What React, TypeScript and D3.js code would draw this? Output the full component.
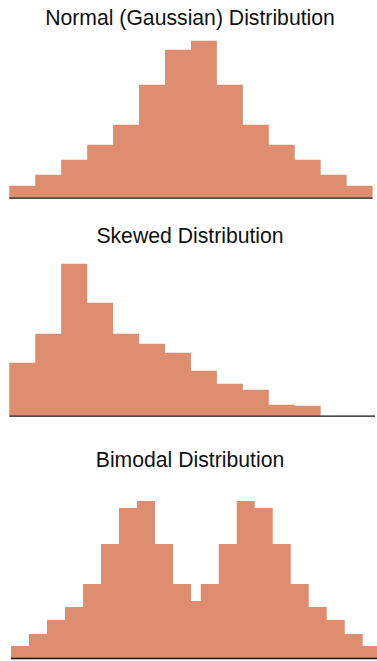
import React from "react";
import * as d3 from "d3";

const W = 377;
const H = 661;

const titles = ["Normal (Gaussian) Distribution", "Skewed Distribution", "Bimodal Distribution"];

const normalValues = [12, 23, 38, 53, 73, 113, 148, 157, 113, 73, 53, 38, 23, 12];
const normalEdges = [0, 1, 2, 3, 4, 5, 6, 7, 8, 9, 10, 11, 12, 13, 14];

const skewedValues = [53, 82, 152, 113, 82, 72, 63, 45, 32, 26, 11, 10, 0, 0];
const skewedEdges = [0, 1, 2, 3, 4, 5, 6, 7, 8, 9, 10, 11, 12, 13, 14];

const bimodalValues = [12, 24, 38, 51, 74, 114, 150, 157, 114, 74, 57, 74, 114, 157, 150, 114, 74, 51, 38, 24, 12];
const bimodalEdges = [0, 1, 2, 3, 4, 5, 6, 7, 8, 9, 10, 10.54, 11.54, 12.54, 13.54, 14.54, 15.54, 16.54, 17.54, 18.54, 19.54, 20.54];

const FILL = "#de8d6f";
const TITLE_X = 190;

type Panel = {
  title: string;
  values: number[];
  edges: number[];
  titleY: number;
  baseY: number;
  xRange: [number, number];
  lineExtra: number;
};

const panels: Panel[] = [
  { title: titles[0], values: normalValues, edges: normalEdges, titleY: 25.3, baseY: 197.7, xRange: [9.3, 372.6], lineExtra: 0 },
  { title: titles[1], values: skewedValues, edges: skewedEdges, titleY: 242.7, baseY: 415.7, xRange: [9.3, 372.6], lineExtra: 2.4 },
  { title: titles[2], values: bimodalValues, edges: bimodalEdges, titleY: 467.3, baseY: 658, xRange: [11, 11 + 20.54 * 18], lineExtra: 0 },
];

// shared vertical scale (value -> pixel height)
const yScale = d3.scaleLinear().domain([0, 160]).range([0, 160]);

function Hist({ p }: { p: Panel }) {
  const x = d3
    .scaleLinear()
    .domain([p.edges[0], p.edges[p.edges.length - 1]])
    .range(p.xRange);
  const pts = p.values.map((v, i) => ({ x: p.edges[i], v }));
  pts.push({ x: p.edges[p.edges.length - 1], v: p.values[p.values.length - 1] });
  const area = d3
    .area<{ x: number; v: number }>()
    .x((d) => x(d.x))
    .y0(p.baseY)
    .y1((d) => p.baseY - yScale(d.v))
    .curve(d3.curveStepAfter);
  return (
    <g>
      <text
        x={TITLE_X}
        y={p.titleY}
        textAnchor="middle"
        fontFamily="'Liberation Sans', Arial, Helvetica, sans-serif"
        fontSize={21.2}
        fill="#111"
      >
        {p.title}
      </text>
      <path d={area(pts) || ""} fill={FILL} />
      <line
        x1={p.xRange[0]}
        x2={p.xRange[1] + p.lineExtra}
        y1={p.baseY + 0.5}
        y2={p.baseY + 0.5}
        stroke="#111"
        strokeWidth={1.3}
      />
    </g>
  );
}

export default function App() {
  return (
    <svg
      width={W}
      height={H}
      style={{ position: "absolute", left: 0, top: 0, background: "#fff" }}
    >
      {panels.map((p) => (
        <Hist key={p.title} p={p} />
      ))}
    </svg>
  );
}
